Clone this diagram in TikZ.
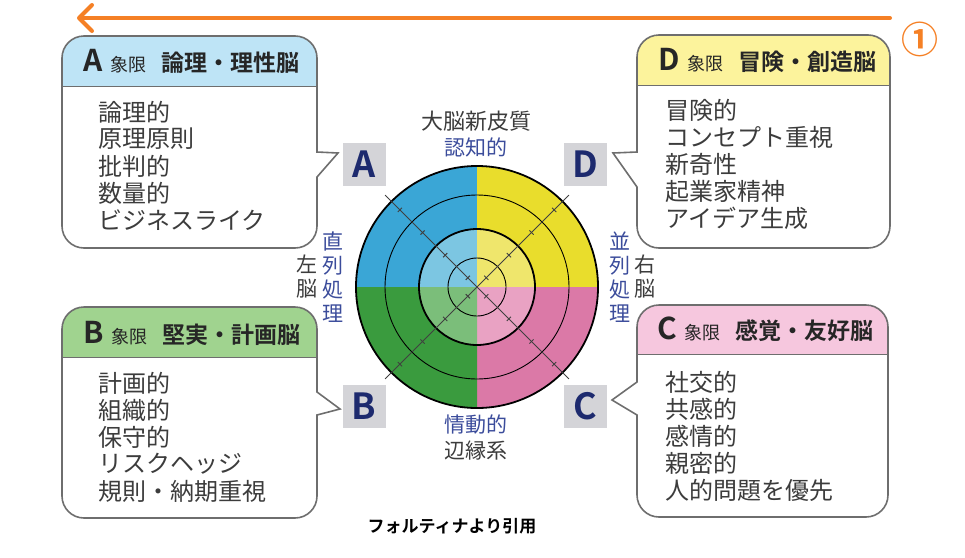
\documentclass[tikz,border=0pt]{standalone}
\usepackage{fontspec}
\setmainfont{Noto Sans CJK JP}[BoldFont=Noto Sans CJK JP Bold]
\usetikzlibrary{arrows.meta}

\definecolor{arrorange}{HTML}{F58025}
\definecolor{boxgrey}{HTML}{6E6E6E}
\definecolor{txtgrey}{HTML}{3C3C3C}
\definecolor{navy}{HTML}{3B4C9B}
\definecolor{sqnavy}{HTML}{1D2A6E}
\definecolor{sqgrey}{HTML}{D4D4D8}
\definecolor{hdrA}{HTML}{BEE4F6}
\definecolor{hdrD}{HTML}{FCF39C}
\definecolor{hdrB}{HTML}{A0D38F}
\definecolor{hdrC}{HTML}{F6C7DE}
\definecolor{blueout}{HTML}{3AA6D6}
\definecolor{bluein}{HTML}{7CC6E2}
\definecolor{yellowout}{HTML}{E9DD2C}
\definecolor{yellowin}{HTML}{EFE66C}
\definecolor{greenout}{HTML}{3A9B3E}
\definecolor{greenin}{HTML}{7BBE7A}
\definecolor{pinkout}{HTML}{DB79A7}
\definecolor{pinkin}{HTML}{E9A2C3}

\begin{document}
\begin{tikzpicture}[x=1pt, y=-1pt,
    boxline/.style={draw=boxgrey, line width=1.6pt},
    bodytext/.style={anchor=west, inner sep=0pt, text=txtgrey, font=\fontsize{24}{24}\selectfont},
    headtext/.style={anchor=west, inner sep=0pt, text=black!85},
    lettersq/.style={fill=sqgrey, minimum size=43pt, inner sep=0pt, text=sqnavy, font=\bfseries\fontsize{36}{36}\selectfont},
    navytext/.style={inner sep=0pt, text=navy, font=\fontsize{21}{24}\selectfont},
    greytext/.style={inner sep=0pt, text=txtgrey, font=\fontsize{21}{24}\selectfont}]

    \useasboundingbox (0,0) rectangle (965,557);

    % orange arrow
    \coordinate (arrowstart) at (890,18);
    \coordinate (arrowend) at (77,18);
    \draw[arrorange, line width=4pt, line cap=round, -{Straight Barb[length=13pt,width=26pt,round]}] (arrowstart) -- (arrowend);
    \node[text=arrorange, font=\bfseries\fontsize{37}{37}\selectfont] (num) at (920,39) {①};

    % A box
    \fill[hdrA] (62,86) [rounded corners=22pt] -- (62,36) -- (317,36) [sharp corners] -- (317,86) -- cycle;
    \draw[boxgrey, line width=1pt] (62,86) -- (317,86);
    \draw[boxline] (317,152) [rounded corners=22pt] -- (317,36) -- (62,36) -- (62,248) -- (317,248) [sharp corners] -- (317,177) -- (338,153) -- cycle;
    \node[headtext] (titleA) at (83,61) {{\bfseries\fontsize{30}{30}\selectfont A}\hspace{8pt}{\fontsize{18}{18}\selectfont 象限}\hspace{15pt}{\bfseries\fontsize{23}{23}\selectfont 論理・理性脳}};
    \foreach \t [count=\i] in {論理的,原理原則,批判的,数量的,ビジネスライク}
        \node[bodytext] (a\i) at (98,85+27*\i) {\t};

    % D box
    \fill[hdrD] (637,85) [rounded corners=22pt] -- (637,35) -- (890,35) [sharp corners] -- (890,85) -- cycle;
    \draw[boxgrey, line width=1pt] (637,85) -- (890,85);
    \draw[boxline] (637,152) [rounded corners=22pt] -- (637,35) -- (890,35) -- (890,248) -- (637,248) [sharp corners] -- (637,187) -- (613,153) -- cycle;
    \node[headtext] (titleD) at (658,60) {{\bfseries\fontsize{30}{30}\selectfont D}\hspace{8pt}{\fontsize{18}{18}\selectfont 象限}\hspace{15pt}{\bfseries\fontsize{23}{23}\selectfont 冒険・創造脳}};
    \foreach \t [count=\i] in {冒険的,コンセプト重視,新奇性,起業家精神,アイデア生成}
        \node[bodytext] (d\i) at (665,83+27*\i) {\t};

    % B box
    \fill[hdrB] (62,357) [rounded corners=22pt] -- (62,307) -- (317,307) [sharp corners] -- (317,357) -- cycle;
    \draw[boxgrey, line width=1pt] (62,357) -- (317,357);
    \draw[boxline] (317,392) [rounded corners=22pt] -- (317,307) -- (62,307) -- (62,518) -- (317,518) [sharp corners] -- (317,415) -- (340,409) -- cycle;
    \node[headtext] (titleB) at (83,333) {{\bfseries\fontsize{30}{30}\selectfont B}\hspace{8pt}{\fontsize{18}{18}\selectfont 象限}\hspace{15pt}{\bfseries\fontsize{23}{23}\selectfont 堅実・計画脳}};
    \foreach \t [count=\i] in {計画的,組織的,保守的,リスクヘッジ,規則・納期重視}
        \node[bodytext] (b\i) at (98,356+27*\i) {\t};

    % C box
    \fill[hdrC] (637,354) [rounded corners=22pt] -- (637,305) -- (888,305) [sharp corners] -- (888,354) -- cycle;
    \draw[boxgrey, line width=1pt] (637,354) -- (888,354);
    \draw[boxline] (637,382) [rounded corners=22pt] -- (637,305) -- (888,305) -- (888,517) -- (637,517) [sharp corners] -- (637,415) -- (612,400) -- cycle;
    \node[headtext] (titleC) at (657,329) {{\bfseries\fontsize{30}{30}\selectfont C}\hspace{8pt}{\fontsize{18}{18}\selectfont 象限}\hspace{15pt}{\bfseries\fontsize{23}{23}\selectfont 感覚・友好脳}};
    \foreach \t [count=\i] in {社交的,共感的,感情的,親密的,人的問題を優先}
        \node[bodytext] (c\i) at (665,355+27*\i) {\t};

    % brain circle
    \begin{scope}[shift={(477,287)}]
        \fill[blueout] (0,0) -- (180:121) arc[start angle=180, end angle=270, radius=121] -- cycle;
        \fill[yellowout] (0,0) -- (270:121) arc[start angle=270, end angle=360, radius=121] -- cycle;
        \fill[pinkout] (0,0) -- (0:121) arc[start angle=0, end angle=90, radius=121] -- cycle;
        \fill[greenout] (0,0) -- (90:121) arc[start angle=90, end angle=180, radius=121] -- cycle;
        \fill[bluein] (0,0) -- (180:58) arc[start angle=180, end angle=270, radius=58] -- cycle;
        \fill[yellowin] (0,0) -- (270:58) arc[start angle=270, end angle=360, radius=58] -- cycle;
        \fill[pinkin] (0,0) -- (0:58) arc[start angle=0, end angle=90, radius=58] -- cycle;
        \fill[greenin] (0,0) -- (90:58) arc[start angle=90, end angle=180, radius=58] -- cycle;

        \draw[line width=1.8pt] (0,0) circle[radius=121];
        \draw[line width=0.9pt] (0,0) circle[radius=92];
        \draw[line width=1.8pt] (0,0) circle[radius=58];
        \draw[line width=0.9pt] (0,0) circle[radius=29];

        \foreach \a in {45,135,225,315} {
            \draw[black!75, line width=0.9pt] (0,0) -- (\a:130);
            \foreach \d in {13,45,77,109}
                \draw[black!75, line width=0.9pt] (\a:\d) ++(\a+90:3) -- ++(\a-90:6);
        }
    \end{scope}

    \node[lettersq] (sqA) at (364,164) {A};
    \node[lettersq] (sqD) at (585,164) {D};
    \node[lettersq] (sqB) at (364,406) {B};
    \node[lettersq] (sqC) at (585,406) {C};

    \node[greytext, font=\fontsize{22}{22}\selectfont] (cortex) at (476,121) {大脳新皮質};
    \node[navytext] (cognitive) at (476,147) {認知的};
    \node[navytext] (emotional) at (476,425) {情動的};
    \node[greytext] (limbic) at (476,451) {辺縁系};

    \node[navytext, align=center] (serial) at (333,277) {直\\列\\処\\理};
    \node[greytext, align=center] (leftbrain) at (307,277) {左\\脳};
    \node[navytext, align=center] (parallel) at (620,277) {並\\列\\処\\理};
    \node[greytext, align=center] (rightbrain) at (645,277) {右\\脳};

    \node[font=\bfseries\fontsize{17}{17}\selectfont] (source) at (452,526) {フォルティナより引用};
\end{tikzpicture}
\end{document}
